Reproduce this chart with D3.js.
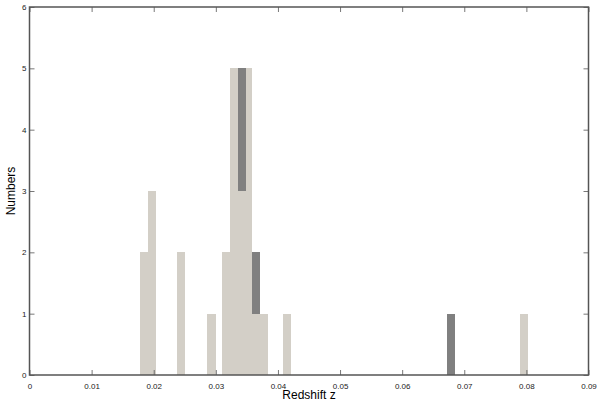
<!DOCTYPE html>
<meta charset="utf-8">
<html>
<head>
<title>Redshift histogram</title>
<script src="https://d3js.org/d3.v7.min.js"></script>
<style>
  body { margin: 0; background: #fff; }
  text { font-family: "Liberation Sans", Arial, sans-serif; }
</style>
</head>
<body>
<svg id="chart" width="600" height="401"></svg>
<script>
// bar centres (redshift) and counts, light sample
var lightZ = [0.0184, 0.0197, 0.0244, 0.0293, 0.0316, 0.0329, 0.0352, 0.0378, 0.0414, 0.0796];
var lightN = [2, 3, 2, 1, 2, 5, 5, 1, 1, 1];
// stacked bars: light part underneath, dark part on top
var stackZ = [0.0342, 0.0365, 0.0678];
var stackLight = [3, 1, 0];
var stackDark = [2, 1, 1];
var xTicks = [0, 0.01, 0.02, 0.03, 0.04, 0.05, 0.06, 0.07, 0.08, 0.09];
var yTicks = [0, 1, 2, 3, 4, 5, 6];
var barW = 0.0013;

var svg = d3.select("#chart");
var x = d3.scaleLinear().domain([0, 0.09]).range([29.5, 588.5]);
var y = d3.scaleLinear().domain([0, 6]).range([375, 7]);
var light = "#d3cfc7", dark = "#808080";

var g = svg.append("g").attr("shape-rendering", "crispEdges");
// plain light bars
g.selectAll("rect.l").data(lightZ).enter().append("rect")
  .attr("x", function(d) { return x(d - barW / 2); })
  .attr("width", function(d) { return x(d + barW / 2) - x(d - barW / 2); })
  .attr("y", function(d, i) { return y(lightN[i]); })
  .attr("height", function(d, i) { return y(0) - y(lightN[i]); })
  .style("fill", light);
// stacked bars
stackZ.forEach(function(z, i) {
  var x0 = x(z - barW / 2), w = x(z + barW / 2) - x0;
  g.append("rect").attr("x", x0).attr("width", w)
    .attr("y", y(stackLight[i])).attr("height", y(0) - y(stackLight[i]))
    .style("fill", light);
  g.append("rect").attr("x", x0).attr("width", w)
    .attr("y", y(stackLight[i] + stackDark[i])).attr("height", y(stackLight[i]) - y(stackLight[i] + stackDark[i]))
    .style("fill", dark);
});

// axes, ticks pointing inward
var fmtX = function(d) { return d === 0 ? "0" : d3.format(".2f")(d); };
var axB = svg.append("g").attr("transform", "translate(0,375)")
  .call(d3.axisBottom(x).tickValues(xTicks).tickFormat(fmtX).tickSizeInner(-5).tickSizeOuter(0).tickPadding(8));
var axT = svg.append("g").attr("transform", "translate(0,7)")
  .call(d3.axisTop(x).tickValues(xTicks).tickFormat("").tickSizeInner(-5).tickSizeOuter(0));
var axL = svg.append("g").attr("transform", "translate(29.5,0)")
  .call(d3.axisLeft(y).tickValues(yTicks).tickFormat(d3.format("d")).tickSizeInner(-5).tickSizeOuter(0).tickPadding(3));
var axR = svg.append("g").attr("transform", "translate(588.5,0)")
  .call(d3.axisRight(y).tickValues(yTicks).tickFormat("").tickSizeInner(-5).tickSizeOuter(0));
[axB, axT, axL, axR].forEach(function(a) {
  a.select(".domain").remove();
  a.selectAll("line").style("stroke", "#555").style("stroke-width", 0.8);
  a.selectAll("text").style("font-size", "8px").style("fill", "#222");
});
// frame
svg.append("rect").attr("x", 29.5).attr("y", 7).attr("width", 559).attr("height", 368)
  .style("fill", "none").style("stroke", "#555").style("stroke-width", 1.5);

svg.append("text").attr("x", 309).attr("y", 399).attr("text-anchor", "middle")
  .style("font-size", "12px").text("Redshift z");
svg.append("text").attr("transform", "rotate(-90)").attr("x", -191).attr("y", 15)
  .attr("text-anchor", "middle").style("font-size", "12px").text("Numbers");
</script>
</body>
</html>
